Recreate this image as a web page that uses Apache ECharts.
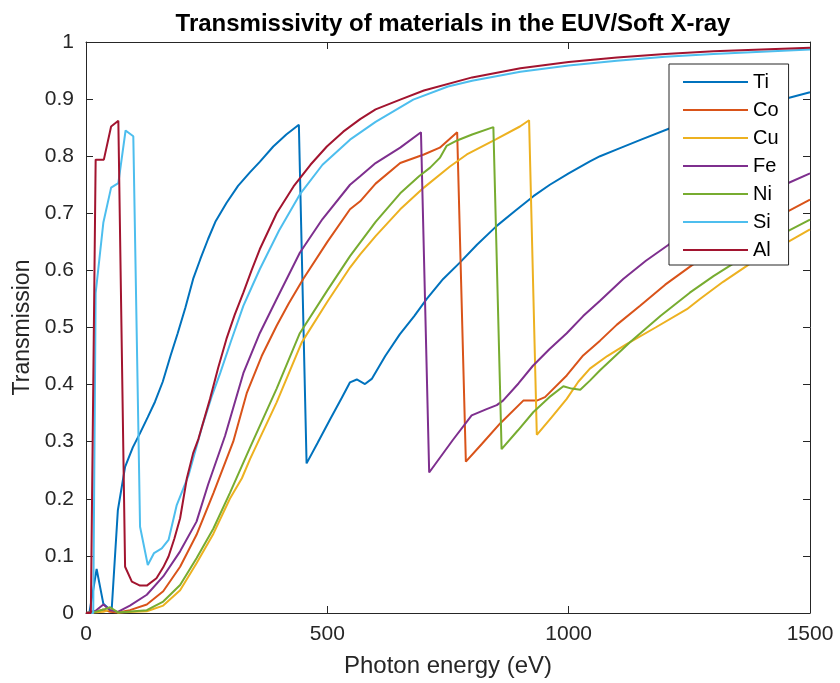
<!DOCTYPE html>
<html>
<head>
<meta charset="utf-8">
<script src="https://cdn.jsdelivr.net/npm/echarts@6/dist/echarts.min.js"></script>
<style>
html,body{margin:0;padding:0;background:#fff;}
#chart{width:840px;height:683px;}
</style>
</head>
<body>
<div id="chart"></div>
<script>
// Photon energy (eV) / transmission
var tiE = [0,7,22,36,53,66,81,97,112,128,143,159,175,190,206,222,237,253,268,291,315,340,360,388,415,441,457,480,505,530,547,561,578,592,620,650,680,706,740,775,810,851,890,927,961,1000,1044,1065,1100,1150,1210,1270,1330,1400,1455,1500];
var tiT = [0,0,0.077,0.016,0.003,0.18,0.256,0.29,0.315,0.343,0.37,0.405,0.45,0.49,0.535,0.585,0.62,0.655,0.685,0.718,0.748,0.772,0.79,0.817,0.838,0.855,0.262,0.298,0.338,0.377,0.404,0.409,0.401,0.41,0.45,0.488,0.52,0.55,0.585,0.614,0.645,0.678,0.705,0.73,0.75,0.77,0.791,0.8,0.812,0.829,0.849,0.865,0.878,0.891,0.902,0.912];

var coE = [0,20,36,50,66,91,126,160,195,229,264,305,333,364,395,420,450,500,547,568,600,651,700,733,769,787,820,858,906,934,951,996,1030,1065,1100,1148,1200,1270,1350,1420,1455,1500];
var coT = [0,0.002,0.006,0.002,0.001,0.005,0.015,0.038,0.081,0.137,0.21,0.3,0.385,0.45,0.503,0.542,0.585,0.65,0.707,0.721,0.752,0.788,0.803,0.815,0.842,0.265,0.296,0.332,0.372,0.372,0.378,0.416,0.451,0.477,0.505,0.538,0.575,0.618,0.66,0.69,0.704,0.724];

var cuE = [0,36,50,66,126,160,195,229,264,298,323,340,395,447,500,547,568,600,651,700,754,789,850,899,918,934,965,996,1020,1044,1080,1120,1180,1245,1272,1320,1376,1440,1500];
var cuT = [0,0.002,0.006,0.001,0.003,0.013,0.04,0.087,0.139,0.2,0.236,0.27,0.369,0.474,0.545,0.605,0.628,0.66,0.707,0.745,0.782,0.803,0.83,0.852,0.863,0.312,0.343,0.375,0.405,0.428,0.45,0.471,0.5,0.532,0.55,0.58,0.612,0.643,0.672];

var feE = [0,20,36,50,66,91,126,160,195,229,253,288,326,360,395,443,490,547,568,600,651,694,711,760,799,830,851,864,896,926,960,996,1030,1065,1113,1160,1207,1260,1300,1350,1400,1455,1500];
var feT = [0,0.004,0.015,0.005,0.002,0.013,0.032,0.064,0.108,0.16,0.225,0.31,0.42,0.49,0.55,0.631,0.69,0.75,0.765,0.788,0.815,0.842,0.246,0.303,0.346,0.357,0.364,0.372,0.402,0.433,0.462,0.49,0.52,0.547,0.585,0.617,0.645,0.672,0.69,0.712,0.735,0.753,0.77];

var niE = [0,20,36,50,66,126,160,195,229,264,298,340,395,443,500,547,600,651,690,713,733,747,770,800,844,861,895,927,960,989,1006,1024,1044,1065,1127,1190,1251,1300,1341,1400,1450,1500];
var niT = [0,0.002,0.006,0.01,0.001,0.005,0.02,0.049,0.096,0.148,0.21,0.29,0.393,0.49,0.565,0.625,0.685,0.735,0.765,0.78,0.797,0.818,0.828,0.838,0.851,0.287,0.32,0.352,0.378,0.397,0.393,0.391,0.407,0.425,0.474,0.52,0.561,0.59,0.612,0.643,0.667,0.689];

var siE = [0,15,20,36,52,67,82,98,112,128,141,157,171,188,212,240,260,278,300,326,343,360,400,443,490,547,600,678,750,800,900,1000,1100,1200,1300,1400,1500];
var siT = [0,0,0.56,0.684,0.745,0.753,0.845,0.835,0.151,0.084,0.105,0.113,0.128,0.189,0.24,0.325,0.378,0.42,0.475,0.538,0.57,0.602,0.67,0.733,0.785,0.829,0.86,0.899,0.922,0.932,0.948,0.959,0.967,0.974,0.979,0.983,0.987];

var alE = [0,10,20,37,52,67,81,95,112,126,146,160,171,183,195,209,222,233,257,274,291,308,326,343,360,395,430,465,499,533,568,600,651,700,800,900,1000,1100,1200,1300,1400,1500];
var alT = [0,0,0.794,0.794,0.852,0.862,0.081,0.055,0.048,0.048,0.061,0.08,0.099,0.13,0.166,0.236,0.28,0.305,0.375,0.43,0.48,0.522,0.561,0.6,0.637,0.7,0.747,0.785,0.817,0.843,0.865,0.882,0.899,0.915,0.938,0.954,0.965,0.973,0.979,0.984,0.987,0.99];

var names = ['Ti','Co','Cu','Fe','Ni','Si','Al'];
var energies = [tiE, coE, cuE, feE, niE, siE, alE];
var trans = [tiT, coT, cuT, feT, niT, siT, alT];
var colors = ['#0072BD','#D95319','#EDB120','#7E2F8E','#77AC30','#4DBEEE','#A2142F'];

var xTicks = [0, 500, 1000, 1500];
var yTicks = [0,0.1,0.2,0.3,0.4,0.5,0.6,0.7,0.8,0.9,1];

function zip(a, b){ var r=[]; for(var i=0;i<a.length;i++){ r.push([a[i], b[i]]); } return r; }

var FONT = 'Liberation Sans, Arial, Helvetica, sans-serif';
var axisCol = '#262626';

var series = names.map(function(n, i){
  return {
    name: n, type: 'line', data: zip(energies[i], trans[i]),
    showSymbol: false, symbol: 'none', smooth: false,
    lineStyle: { color: colors[i], width: 2 },
    itemStyle: { color: colors[i] },
    clip: true, animation: false
  };
});

function frameAxis(pos){
  return {
    type: 'value', position: pos,
    axisLine: { show: true, onZero: false, lineStyle: { color: axisCol, width: 1 } },
    axisTick: { show: true, inside: true, length: 7, lineStyle: { color: axisCol } },
    axisLabel: { show: false }, splitLine: { show: false }
  };
}
var xTop = frameAxis('top');
xTop.min = xTicks[0]; xTop.max = xTicks[xTicks.length-1]; xTop.interval = 500;
var yRight = frameAxis('right');
yRight.min = yTicks[0]; yRight.max = yTicks[yTicks.length-1]; yRight.interval = 0.1;

var chart = echarts.init(document.getElementById('chart'), null, {renderer: 'canvas'});
chart.setOption({
  animation: false,
  backgroundColor: '#ffffff',
  textStyle: { fontFamily: FONT },
  title: {
    text: 'Transmissivity of materials in the EUV/Soft X-ray',
    left: 448, top: 7, textAlign: 'center',
    textStyle: { fontFamily: FONT, fontSize: 24, fontWeight: 'bold', color: '#000' }
  },
  grid: { left: 86, right: 30, top: 42, bottom: 68, containLabel: false },
  legend: {
    data: names, orient: 'vertical', left: 669, top: 64,
    icon: 'rect', itemWidth: 65, itemHeight: 2, itemGap: 8,
    padding: [8, 10, 5, 14],
    backgroundColor: '#ffffff', borderColor: axisCol, borderWidth: 1,
    textStyle: { fontFamily: FONT, fontSize: 20, color: '#000', lineHeight: 20 },
    selectedMode: false
  },
  xAxis: [{
    type: 'value', min: xTicks[0], max: xTicks[xTicks.length-1], interval: 500,
    position: 'bottom',
    name: 'Photon energy (eV)', nameLocation: 'middle', nameGap: 41,
    nameTextStyle: { fontFamily: FONT, fontSize: 24, color: axisCol },
    axisLine: { show: true, onZero: false, lineStyle: { color: axisCol, width: 1 } },
    axisTick: { show: true, inside: true, length: 7, lineStyle: { color: axisCol } },
    axisLabel: { show: true, fontFamily: FONT, fontSize: 21, color: axisCol, margin: 11,
      formatter: function(v){ return String(v); } },
    splitLine: { show: false }
  }, xTop],
  yAxis: [{
    type: 'value', min: yTicks[0], max: yTicks[yTicks.length-1], interval: 0.1,
    position: 'left',
    name: 'Transmission', nameLocation: 'middle', nameGap: 50,
    nameTextStyle: { fontFamily: FONT, fontSize: 23, color: axisCol },
    axisLine: { show: true, onZero: false, lineStyle: { color: axisCol, width: 1 } },
    axisTick: { show: true, inside: true, length: 7, lineStyle: { color: axisCol } },
    axisLabel: { show: true, fontFamily: FONT, fontSize: 21, color: axisCol, margin: 12,
      formatter: function(v){ return String(Math.round(v*10)/10); } },
    splitLine: { show: false }
  }, yRight],
  series: series
});
</script>
</body>
</html>
